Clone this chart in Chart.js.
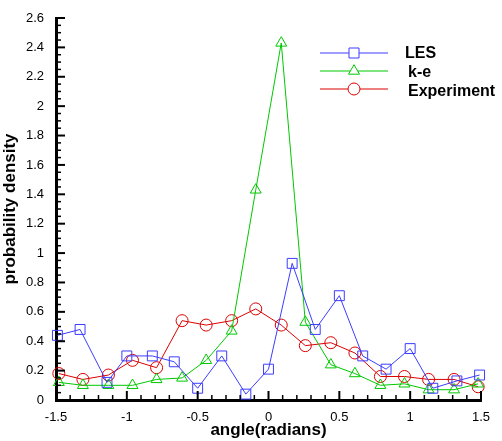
<!DOCTYPE html>
<html>
<head>
<meta charset="utf-8">
<script src="https://cdn.jsdelivr.net/npm/chart.js@4.4.1/dist/chart.umd.min.js"></script>
<style>
  html, body { margin: 0; padding: 0; background: #fff; }
  #wrap { width: 502px; height: 441px; }
</style>
</head>
<body>
<div id="wrap"><canvas id="grafica"></canvas></div>
<script>
// LES: 19 points, k-e and experiment: 18 points (10 degree bins)
const lesX = [-1.49, -1.33, -1.14, -1.0, -0.82, -0.665, -0.5, -0.33, -0.16, 0, 0.167, 0.33, 0.5, 0.665, 0.83, 1.0, 1.16, 1.33, 1.49];
const lesY = [0.44, 0.48, 0.12, 0.30, 0.30, 0.26, 0.08, 0.30, 0.04, 0.21, 0.93, 0.48, 0.71, 0.30, 0.21, 0.35, 0.08, 0.13, 0.17];

const keX = [-1.48, -1.31, -1.13, -0.96, -0.79, -0.61, -0.44, -0.26, -0.09, 0.09, 0.26, 0.44, 0.61, 0.79, 0.96, 1.13, 1.31, 1.48];
const keY = [0.12, 0.10, 0.10, 0.10, 0.14, 0.15, 0.27, 0.47, 1.43, 2.43, 0.53, 0.24, 0.18, 0.10, 0.11, 0.07, 0.07, 0.11];

const expX = [-1.48, -1.31, -1.13, -0.96, -0.79, -0.61, -0.44, -0.26, -0.09, 0.09, 0.26, 0.44, 0.61, 0.79, 0.96, 1.13, 1.31, 1.48];
const expY = [0.18, 0.14, 0.17, 0.27, 0.22, 0.54, 0.51, 0.54, 0.62, 0.51, 0.37, 0.39, 0.32, 0.16, 0.16, 0.14, 0.14, 0.09];

const seriesNames = ['LES', 'k-e', 'Experiment'];

const xMin = -1.5, xMax = 1.5, xStep = 0.5, xMinor = 0.1;
const yMin = 0, yMax = 2.6, yStep = 0.2, yMinor = 0.05;

const pares = (xs, ys) => xs.map((x, i) => ({ x: x, y: ys[i] }));
const etiqueta = (v) => String(Math.round(v * 100) / 100);

Chart.defaults.font.family = '"Liberation Sans", Arial, sans-serif';
Chart.defaults.color = '#000';

const BLUE = 'rgb(60,60,255)';
const GREEN = 'rgb(0,200,0)';
const RED = 'rgb(220,0,0)';

// tick marks pointing into the plot, like the original
function ticksDentro(chart) {
  const ctx = chart.ctx;
  const sx = chart.scales.x, sy = chart.scales.y;
  const base = sy.getPixelForValue(yMin);
  const left = sx.getPixelForValue(xMin);
  ctx.save();
  ctx.strokeStyle = '#000';
  const nx = Math.round((xMax - xMin) / xMinor);
  for (let i = 0; i <= nx; i++) {
    const major = i % 5 === 0;
    const px = sx.getPixelForValue(xMin + i * xMinor);
    ctx.lineWidth = major ? 2 : 1.5;
    ctx.beginPath();
    ctx.moveTo(px, base);
    ctx.lineTo(px, base - (major ? 9 : 5));
    ctx.stroke();
  }
  const ny = Math.round((yMax - yMin) / yMinor);
  for (let i = 0; i <= ny; i++) {
    const major = i % 4 === 0;
    const py = sy.getPixelForValue(yMin + i * yMinor);
    ctx.lineWidth = major ? 2 : 1.5;
    ctx.beginPath();
    ctx.moveTo(left, py);
    ctx.lineTo(left + (major ? 9 : 5), py);
    ctx.stroke();
  }
  ctx.restore();
}

function marcador(ctx, tipo, x, y) {
  ctx.beginPath();
  if (tipo === 'rect') {
    ctx.rect(x - 5, y - 5, 10, 10);
  } else if (tipo === 'triangle') {
    ctx.moveTo(x, y - 6.3);
    ctx.lineTo(x + 5.5, y + 3.2);
    ctx.lineTo(x - 5.5, y + 3.2);
    ctx.closePath();
  } else {
    ctx.arc(x, y, 6, 0, Math.PI * 2);
  }
  ctx.fillStyle = '#fff';
  ctx.fill();
  ctx.stroke();
}

// ticks + legend inside the plot, top right
const extras = {
  id: 'extras',
  afterDraw(chart) {
    ticksDentro(chart);
    const ctx = chart.ctx;
    const filas = [53, 71, 89];
    const textos = [54, 73, 92];
    ctx.save();
    chart.data.datasets.forEach((ds, i) => {
      ctx.strokeStyle = ds.borderColor;
      ctx.lineWidth = 1;
      ctx.beginPath();
      ctx.moveTo(320, filas[i]);
      ctx.lineTo(388, filas[i]);
      ctx.stroke();
      marcador(ctx, ds.pointStyle, 354, filas[i]);
      ctx.fillStyle = '#000';
      ctx.font = 'bold 16px "Liberation Sans", Arial, sans-serif';
      ctx.textBaseline = 'middle';
      ctx.fillText(ds.label, i === 0 ? 405 : 408, textos[i]);
    });
    ctx.restore();
  }
};

const graficaResultados = document.getElementById('grafica');

const data = {
  datasets: [
    {
      label: seriesNames[0],
      data: pares(lesX, lesY),
      borderColor: BLUE,
      borderWidth: 1,
      pointStyle: 'rect',
      pointRadius: 7,
      pointBorderWidth: 1,
      pointBackgroundColor: 'rgba(255,255,255,0)',
      pointBorderColor: BLUE,
      showLine: true,
      clip: false
    },
    {
      label: seriesNames[1],
      data: pares(keX, keY),
      borderColor: GREEN,
      borderWidth: 1,
      pointStyle: 'triangle',
      pointRadius: 6.3,
      pointBorderWidth: 1,
      pointBackgroundColor: 'rgba(255,255,255,0)',
      pointBorderColor: GREEN,
      showLine: true,
      clip: false
    },
    {
      label: seriesNames[2],
      data: pares(expX, expY),
      borderColor: RED,
      borderWidth: 1,
      pointStyle: 'circle',
      pointRadius: 6,
      pointBorderWidth: 1,
      pointBackgroundColor: 'rgba(255,255,255,0)',
      pointBorderColor: RED,
      showLine: true,
      clip: false
    }
  ]
};

const options = {
  responsive: true,
  maintainAspectRatio: false,
  animation: false,
  layout: { padding: { top: 18, right: 21, bottom: 0, left: 0 } },
  plugins: {
    legend: { display: false },
    tooltip: { enabled: false }
  },
  scales: {
    x: {
      type: 'linear',
      min: xMin,
      max: xMax,
      grid: { display: false },
      border: { display: true, color: '#000', width: 3 },
      ticks: { stepSize: xStep, font: { size: 13 }, padding: 2, maxRotation: 0, callback: etiqueta },
      title: {
        display: true,
        text: 'angle(radians)',
        font: { size: 17, weight: 'bold' },
        padding: { top: 0, bottom: 0 }
      },
      afterFit(scale) { scale.height = 41; }
    },
    y: {
      type: 'linear',
      min: yMin,
      max: yMax,
      grid: { display: false },
      border: { display: true, color: '#000', width: 3 },
      ticks: { stepSize: yStep, font: { size: 13 }, padding: 4, callback: etiqueta },
      title: {
        display: true,
        text: 'probability density',
        font: { size: 17, weight: 'bold' },
        padding: { top: 0, bottom: 0 }
      },
      afterFit(scale) { scale.width = 56; }
    }
  }
};

new Chart(graficaResultados, {
  type: 'scatter',
  data: data,
  options: options,
  plugins: [extras]
});
</script>
</body>
</html>
